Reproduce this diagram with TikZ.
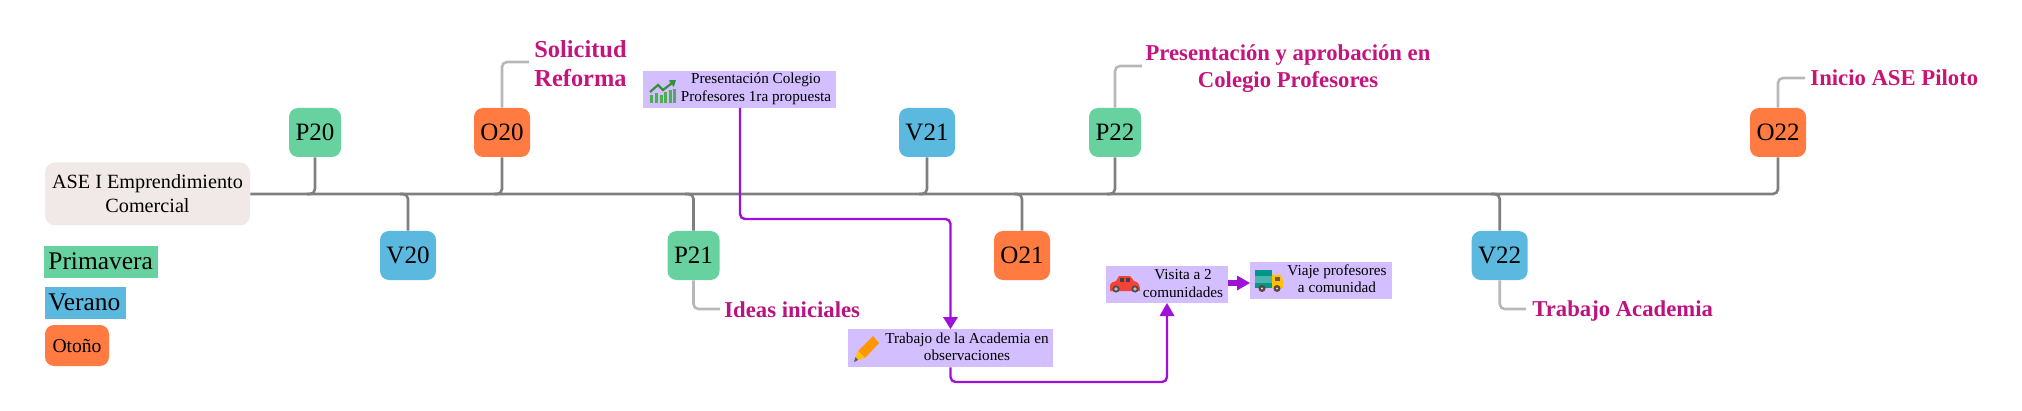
\documentclass[tikz,border=0pt]{standalone}
\usepackage{fontspec}
\setmainfont{Liberation Serif}
\usetikzlibrary{arrows.meta}
\definecolor{cverde}{HTML}{68D1A0}
\definecolor{cazul}{HTML}{5BB8DF}
\definecolor{cnaranja}{HTML}{FF7B42}
\definecolor{craiz}{HTML}{F0E9E7}
\definecolor{clila}{HTML}{D3BEFF}
\definecolor{cmorado}{HTML}{9F10D8}
\definecolor{cgris}{HTML}{7F7F7F}
\definecolor{cgrisclaro}{HTML}{B8B8B8}
\definecolor{cmag}{HTML}{C4157F}
\definecolor{cbarra}{HTML}{4CAF50}
\definecolor{cflecha}{HTML}{388E3C}
\definecolor{cteal}{HTML}{00968A}
\definecolor{cteal2}{HTML}{4DB6AC}
\definecolor{ccab}{HTML}{FFC107}
\definecolor{cwin}{HTML}{795548}
\definecolor{clapiz}{HTML}{FF9800}
\definecolor{clapiz2}{HTML}{FFC107}
\definecolor{ccoche}{HTML}{F44336}
\tikzset{
  hito/.style={rounded corners=4.5pt,inner sep=0pt,minimum height=24.5pt,minimum width=28pt,font=\fontsize{12.5}{15}\selectfont,text=black},
  trunk/.style={draw=cgris,line width=1.3pt,rounded corners=2.5pt},
  rama/.style={draw=cgrisclaro,line width=1.3pt,rounded corners=2.5pt},
  flujo/.style={draw=cmorado,line width=1.2pt,rounded corners=2.5pt},
  caja/.style={fill=clila,inner sep=0pt},
  textocaja/.style={inner sep=0pt,align=center,font=\fontsize{7.6}{8.75}\selectfont,text=black},
  etiqueta/.style={inner sep=0pt,align=center,font=\fontsize{11.35}{13.5}\selectfont\bfseries},
  leyenda/.style={inner sep=0pt,text=black,font=\fontsize{12.7}{15}\selectfont}
}
\begin{document}
\begin{tikzpicture}[x=0.5pt,y=-0.5pt]
\useasboundingbox (0,0) rectangle (2022,411);
% nodes
\node[fill=craiz,rounded corners=5pt,inner sep=0pt,minimum width=102.5pt,minimum height=31.5pt,align=center,font=\fontsize{10.1}{12}\selectfont] (root) at (147.5,194) {\raisebox{-1pt}{ASE I Emprendimiento}\\\raisebox{-1pt}{Comercial}};
\node[hito,fill=cverde,minimum width=26pt] (p20) at (315,132.5) {P20};
\node[hito,fill=cnaranja] (o20) at (502,132.5) {O20};
\node[hito,fill=cazul] (v20) at (408,255.5) {V20};
\node[hito,fill=cverde,minimum width=26pt] (p21) at (693.5,255.5) {P21};
\node[hito,fill=cazul] (v21) at (927,132.5) {V21};
\node[hito,fill=cnaranja] (o21) at (1022,255.5) {O21};
\node[hito,fill=cverde,minimum width=26pt] (p22) at (1115,132.5) {P22};
\node[hito,fill=cazul] (v22) at (1499.7,255.5) {V22};
\node[hito,fill=cnaranja] (o22) at (1778,132.5) {O22};
% legend
\node[fill=cverde,minimum width=57pt,minimum height=16pt,inner sep=0pt] (lp) at (101,262) {};
\node[leyenda,anchor=west] (lpt) at (48,261.5) {Primavera};
\node[fill=cazul,minimum width=40.5pt,minimum height=16pt,inner sep=0pt] (lv) at (85.5,303) {};
\node[leyenda,anchor=west] (lvt) at (48,302.5) {Verano};
\node[fill=cnaranja,rounded corners=4.5pt,minimum width=32pt,minimum height=20.5pt,inner sep=0pt,font=\fontsize{9.8}{11}\selectfont] (lo) at (77,345.5) {Otoño};
% trunk
\coordinate (jp20) at (307,194);
\coordinate (jo20) at (494,194);
\coordinate (jv20) at (400,194);
\coordinate (jp21) at (685,194);
\coordinate (jv21) at (919,194);
\coordinate (jo21) at (1014,194);
\coordinate (jp22) at (1107,194);
\coordinate (jv22) at (1491,194);
\draw[trunk] (root.east) -| (o22.south);
\draw[trunk] (p20.south) |- (jp20);
\draw[trunk] (o20.south) |- (jo20);
\draw[trunk] (jv20) -| (v20.north);
\draw[trunk] (jp21) -| (p21.north);
\draw[trunk] (v21.south) |- (jv21);
\draw[trunk] (jo21) -| (o21.north);
\draw[trunk] (p22.south) |- (jp22);
\draw[trunk] (jv22) -| (v22.north);
% labels
\coordinate (eo20) at (529,62);
\coordinate (ep21) at (720,309);
\coordinate (ep22) at (1142,66);
\coordinate (ev22) at (1526,309);
\coordinate (eo22) at (1805,78);
\draw[rama] (o20.north) |- (eo20);
\draw[rama] (p21.south) |- (ep21);
\draw[rama] (p22.north) |- (ep22);
\draw[rama] (v22.south) |- (ev22);
\draw[rama] (o22.north) |- (eo22);
\node[etiqueta,text=cmag,font=\fontsize{12.2}{14.2}\selectfont\bfseries] (t1) at (580.5,63.5) {Solicitud\\Reforma};
\node[etiqueta,text=cmag!85!violet,anchor=west] (t2) at (724,310) {Ideas iniciales};
\node[etiqueta,text=cmag] (t3) at (1288,69) {Presentación y aprobación en\\Colegio Profesores};
\node[etiqueta,text=cmag!90!violet,anchor=west] (t4) at (1532,311) {Trabajo Academia};
\node[etiqueta,text=cmag!90!red,anchor=west] (t5) at (1810,78) {Inicio ASE Piloto};
% purple boxes
\node[caja,minimum width=96.5pt,minimum height=18.5pt] (b1) at (739.5,89.5) {};
\node[caja,minimum width=102.5pt,minimum height=19pt] (b2) at (950.5,348) {};
\node[caja,minimum width=61pt,minimum height=18.5pt] (b3) at (1167,284.5) {};
\node[caja,minimum width=71pt,minimum height=18.5pt] (b4) at (1321,280.5) {};
\node[textocaja] (b1t) at (756,89) {Presentación Colegio\\Profesores 1ra propuesta};
\node[textocaja] (b2t) at (967,347) {Trabajo de la Academia en\\observaciones};
\node[textocaja] (b3t) at (1183,283.5) {Visita a 2\\comunidades};
\node[textocaja] (b4t) at (1337,278.5) {Viaje profesores\\a comunidad};
% purple connectors
\coordinate (c1) at (950.5,219);
\coordinate (c3) at (1167,382);
\coordinate (b1s) at (740,108);
\draw[flujo] (b1s) |- (c1) -- (950.5,320);
\fill[cmorado] (943,317) -- (958,317) -- (950.5,329) -- cycle;
\draw[flujo] (b2.south) |- (c3) -- (1167,312);
\fill[cmorado] (1159.5,316) -- (1174.5,316) -- (1167,303) -- cycle;
\draw[cmorado,line width=3pt] (1228,283) -- (1238,283);
\fill[cmorado] (1237,275.5) -- (1250,283) -- (1237,290.5) -- cycle;
% icon: chart
\foreach \a/\b in {650/95,655/93,660/95,664/92,669/90,673/89}{
  \fill[cbarra] (\a,103) rectangle ++(2.7,{\b-103});
}
\draw[draw=cflecha,line width=1.1pt,-{Triangle[length=3pt,width=4pt]}] (650,92) -- (658,85) -- (663,90) -- (676,80);
% icon: pencil
\fill[clapiz] (873,336) -- (879,343) -- (865,358) -- (858,351) -- cycle;
\fill[clapiz2] (858,351) -- (865,358) -- (858,360) -- (855.5,357) -- cycle;
\fill[black!65] (855.5,357) -- (858,360) -- (854,362) -- cycle;
% icon: car
\fill[ccoche] (1110,291) -- (1110,285) .. controls (1111,282) and (1113,282) .. (1116,281) -- (1119,276) -- (1130,276) -- (1134,281) .. controls (1138,282) and (1140,284) .. (1140,291) -- cycle;
\fill[black!75] (1120,278) rectangle (1124,281.5);
\fill[black!75] (1125.5,278) rectangle (1130,281.5);
\fill[black!70] (1116,289) circle (3.6);
\fill[black!25] (1116,289) circle (1.8);
\fill[black!70] (1135,289) circle (3.6);
\fill[black!25] (1135,289) circle (1.8);
% icon: truck
\fill[cteal] (1255,270) rectangle (1272,288);
\fill[cteal2] (1255,276) rectangle (1272,283);
\fill[ccab] (1272,274.5) -- (1280,274.5) -- (1283,280) -- (1283,288) -- (1272,288) -- cycle;
\fill[cwin] (1274.5,276.5) rectangle (1280,281);
\fill[cwin!80!black] (1262,288.5) circle (3.5);
\fill[black!15] (1262,288.5) circle (1.2);
\fill[cwin!80!black] (1277,288.5) circle (3.5);
\fill[black!15] (1277,288.5) circle (1.2);
\end{tikzpicture}
\end{document}
